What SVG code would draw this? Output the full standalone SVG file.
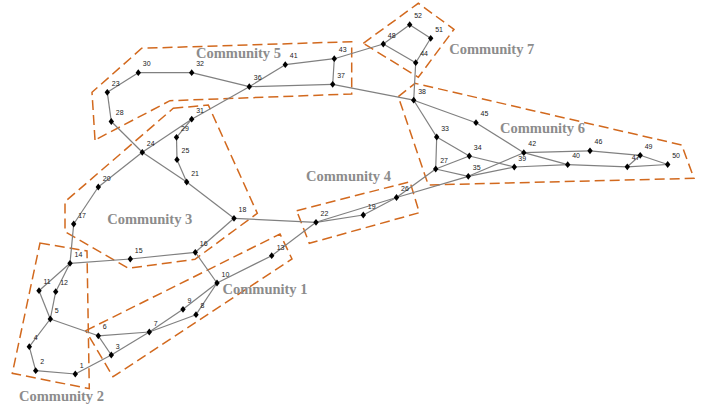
<svg xmlns="http://www.w3.org/2000/svg" xmlns:xlink="http://www.w3.org/1999/xlink" width="715" height="413" viewBox="0 0 715 413">
<style>
.hull{fill:none;stroke:#d2691e;stroke-width:1.5;stroke-dasharray:10,5}
.clab{font-family:"Liberation Serif",serif;font-weight:bold;font-size:14.5px;fill:#8c8c8c}
.e{stroke:#808080;stroke-width:1.2;fill:none}
.n{fill:#000}
.nl{font-family:"Liberation Sans",sans-serif;font-size:7px;fill:#222}
</style>
<defs>
<path id="d" d="M0,-3.4 L2.7,0 L0,3.4 L-2.7,0 Z"/>
</defs>
<rect width="715" height="413" fill="#fff"/>
<g id="communities">
<g id="community1"><polygon class="hull" points="85.7,330.7 280,234 292,259 113,376.7"/><text class="clab" x="222.5" y="293.5">Community 1</text></g>
<g id="community2"><polygon class="hull" points="40,243 87,251 89.3,388.7 12.3,373.3"/><text class="clab" x="19" y="400.5">Community 2</text></g>
<g id="community3"><polygon class="hull" points="173.3,108.3 208.3,105 257.3,213.3 195,259.3 128.3,268.3 65,231.7 65,201.7"/><text class="clab" x="107.3" y="224">Community 3</text></g>
<g id="community4"><polygon class="hull" points="296.7,210.7 410,181.7 419.3,212.7 309.3,243.3"/><text class="clab" x="306" y="181">Community 4</text></g>
<g id="community5"><polygon class="hull" points="95,140 92,92.3 141.7,48.3 351.7,41.7 351.7,94 170,100.7"/><text class="clab" x="196" y="58.3">Community 5</text></g>
<g id="community6"><polygon class="hull" points="398.3,96.7 415,83.3 681.7,145 694,178.3 428.3,185"/><text class="clab" x="500" y="133.3">Community 6</text></g>
<g id="community7"><polygon class="hull" points="363.3,43.3 418.3,3.3 454,29.3 418.3,77.3"/><text class="clab" x="449.3" y="54.3">Community 7</text></g>
</g>
<g id="connectors" class="e">
<line x1="75.3" y1="374" x2="35.7" y2="370.7"/>
<line x1="35.7" y1="370.7" x2="29.3" y2="346.7"/>
<line x1="29.3" y1="346.7" x2="50.3" y2="319"/>
<line x1="50.3" y1="319" x2="39" y2="290.7"/>
<line x1="50.3" y1="319" x2="55.7" y2="291.7"/>
<line x1="39" y1="290.7" x2="70" y2="263.3"/>
<line x1="55.7" y1="291.7" x2="70" y2="263.3"/>
<line x1="50.3" y1="319" x2="98.3" y2="335.8"/>
<line x1="98.3" y1="335.8" x2="111.3" y2="355"/>
<line x1="98.3" y1="335.8" x2="149.3" y2="332"/>
<line x1="75.3" y1="374" x2="111.3" y2="355"/>
<line x1="111.3" y1="355" x2="149.3" y2="332"/>
<line x1="149.3" y1="332" x2="183" y2="309.3"/>
<line x1="183" y1="309.3" x2="217" y2="283"/>
<line x1="149.3" y1="332" x2="196" y2="314.7"/>
<line x1="196" y1="314.7" x2="217" y2="283"/>
<line x1="217" y1="283" x2="271.7" y2="255.7"/>
<line x1="271.7" y1="255.7" x2="316" y2="222.3"/>
<line x1="217" y1="283" x2="195.3" y2="252.3"/>
<line x1="195.3" y1="252.3" x2="234" y2="218.3"/>
<line x1="70" y1="263.3" x2="130.3" y2="259"/>
<line x1="130.3" y1="259" x2="195.3" y2="252.3"/>
<line x1="70" y1="263.3" x2="73.7" y2="224"/>
<line x1="73.7" y1="224" x2="98.3" y2="187"/>
<line x1="98.3" y1="187" x2="142.3" y2="152.3"/>
<line x1="142.3" y1="152.3" x2="191.7" y2="119.2"/>
<line x1="191.7" y1="119.2" x2="249.3" y2="86.7"/>
<line x1="111.3" y1="121.5" x2="142.3" y2="152.3"/>
<line x1="142.3" y1="152.3" x2="186.7" y2="182"/>
<line x1="186.7" y1="182" x2="234" y2="218.3"/>
<line x1="176.5" y1="137.3" x2="191.7" y2="119.2"/>
<line x1="176.5" y1="137.3" x2="177" y2="159.7"/>
<line x1="177" y1="159.7" x2="186.7" y2="182"/>
<line x1="107.3" y1="92.3" x2="111.3" y2="121.5"/>
<line x1="107.3" y1="92.3" x2="138.3" y2="72.7"/>
<line x1="138.3" y1="72.7" x2="191.7" y2="72.7"/>
<line x1="191.7" y1="72.7" x2="249.3" y2="86.7"/>
<line x1="249.3" y1="86.7" x2="285.3" y2="64.7"/>
<line x1="285.3" y1="64.7" x2="334.3" y2="58.7"/>
<line x1="334.3" y1="58.7" x2="332.7" y2="84.3"/>
<line x1="249.3" y1="86.7" x2="332.7" y2="84.3"/>
<line x1="332.7" y1="84.3" x2="413.7" y2="100.2"/>
<line x1="334.3" y1="58.7" x2="383.3" y2="44"/>
<line x1="383.3" y1="44" x2="409.7" y2="24.7"/>
<line x1="409.7" y1="24.7" x2="430.7" y2="38.3"/>
<line x1="430.7" y1="38.3" x2="415.7" y2="62.7"/>
<line x1="383.3" y1="44" x2="415.7" y2="62.7"/>
<line x1="415.7" y1="62.7" x2="413.7" y2="100.2"/>
<line x1="234" y1="218.3" x2="316" y2="222.3"/>
<line x1="316" y1="222.3" x2="363.3" y2="215"/>
<line x1="363.3" y1="215" x2="396.5" y2="197.5"/>
<line x1="316" y1="222.3" x2="396.5" y2="197.5"/>
<line x1="396.5" y1="197.5" x2="435.7" y2="169"/>
<line x1="396.5" y1="197.5" x2="468.3" y2="176.3"/>
<line x1="413.7" y1="100.2" x2="436.7" y2="137"/>
<line x1="413.7" y1="100.2" x2="476" y2="122.7"/>
<line x1="476" y1="122.7" x2="523.8" y2="152.7"/>
<line x1="436.7" y1="137" x2="435.7" y2="169"/>
<line x1="436.7" y1="137" x2="469.3" y2="156"/>
<line x1="435.7" y1="169" x2="469.3" y2="156"/>
<line x1="435.7" y1="169" x2="468.3" y2="176.3"/>
<line x1="469.3" y1="156" x2="514.3" y2="167"/>
<line x1="468.3" y1="176.3" x2="514.3" y2="167"/>
<line x1="468.3" y1="176.3" x2="523.8" y2="152.7"/>
<line x1="523.8" y1="152.7" x2="590" y2="150.8"/>
<line x1="523.8" y1="152.7" x2="567.7" y2="164.7"/>
<line x1="514.3" y1="167" x2="567.7" y2="164.7"/>
<line x1="567.7" y1="164.7" x2="627.3" y2="166.8"/>
<line x1="590" y1="150.8" x2="640.2" y2="155.3"/>
<line x1="640.2" y1="155.3" x2="627.3" y2="166.8"/>
<line x1="640.2" y1="155.3" x2="667.7" y2="164.5"/>
<line x1="627.3" y1="166.8" x2="667.7" y2="164.5"/>
</g>
<g id="nodes">
<g id="n1"><use href="#d" x="75.3" y="374" class="n"/><text class="nl" x="79.8" y="367.5">1</text></g>
<g id="n2"><use href="#d" x="35.7" y="370.7" class="n"/><text class="nl" x="40.2" y="364.2">2</text></g>
<g id="n3"><use href="#d" x="111.3" y="355" class="n"/><text class="nl" x="115.8" y="348.5">3</text></g>
<g id="n4"><use href="#d" x="29.3" y="346.7" class="n"/><text class="nl" x="33.8" y="340.2">4</text></g>
<g id="n5"><use href="#d" x="50.3" y="319" class="n"/><text class="nl" x="54.8" y="312.5">5</text></g>
<g id="n6"><use href="#d" x="98.3" y="335.8" class="n"/><text class="nl" x="102.8" y="329.3">6</text></g>
<g id="n7"><use href="#d" x="149.3" y="332" class="n"/><text class="nl" x="153.8" y="325.5">7</text></g>
<g id="n8"><use href="#d" x="196" y="314.7" class="n"/><text class="nl" x="200.5" y="308.2">8</text></g>
<g id="n9"><use href="#d" x="183" y="309.3" class="n"/><text class="nl" x="187.5" y="302.8">9</text></g>
<g id="n10"><use href="#d" x="217" y="283" class="n"/><text class="nl" x="221.5" y="276.5">10</text></g>
<g id="n11"><use href="#d" x="39" y="290.7" class="n"/><text class="nl" x="43.5" y="284.2">11</text></g>
<g id="n12"><use href="#d" x="55.7" y="291.7" class="n"/><text class="nl" x="60.2" y="285.2">12</text></g>
<g id="n13"><use href="#d" x="271.7" y="255.7" class="n"/><text class="nl" x="276.7" y="250">13</text></g>
<g id="n14"><use href="#d" x="70" y="263.3" class="n"/><text class="nl" x="74.5" y="256.8">14</text></g>
<g id="n15"><use href="#d" x="130.3" y="259" class="n"/><text class="nl" x="134.8" y="252.5">15</text></g>
<g id="n16"><use href="#d" x="195.3" y="252.3" class="n"/><text class="nl" x="199.8" y="245.8">16</text></g>
<g id="n17"><use href="#d" x="73.7" y="224" class="n"/><text class="nl" x="78.2" y="217.5">17</text></g>
<g id="n18"><use href="#d" x="234" y="218.3" class="n"/><text class="nl" x="238.5" y="211.8">18</text></g>
<g id="n19"><use href="#d" x="363.3" y="215" class="n"/><text class="nl" x="367.8" y="208.5">19</text></g>
<g id="n20"><use href="#d" x="98.3" y="187" class="n"/><text class="nl" x="102.8" y="180.5">20</text></g>
<g id="n21"><use href="#d" x="186.7" y="182" class="n"/><text class="nl" x="191.2" y="175.5">21</text></g>
<g id="n22"><use href="#d" x="316" y="222.3" class="n"/><text class="nl" x="320.5" y="215.8">22</text></g>
<g id="n23"><use href="#d" x="107.3" y="92.3" class="n"/><text class="nl" x="111.8" y="85.8">23</text></g>
<g id="n24"><use href="#d" x="142.3" y="152.3" class="n"/><text class="nl" x="146.8" y="145.8">24</text></g>
<g id="n25"><use href="#d" x="177" y="159.7" class="n"/><text class="nl" x="181.5" y="153.2">25</text></g>
<g id="n26"><use href="#d" x="396.5" y="197.5" class="n"/><text class="nl" x="401" y="191">26</text></g>
<g id="n27"><use href="#d" x="435.7" y="169" class="n"/><text class="nl" x="440.2" y="162.5">27</text></g>
<g id="n28"><use href="#d" x="111.3" y="121.5" class="n"/><text class="nl" x="115.8" y="115">28</text></g>
<g id="n29"><use href="#d" x="176.5" y="137.3" class="n"/><text class="nl" x="181" y="130.8">29</text></g>
<g id="n30"><use href="#d" x="138.3" y="72.7" class="n"/><text class="nl" x="142.8" y="66.2">30</text></g>
<g id="n31"><use href="#d" x="191.7" y="119.2" class="n"/><text class="nl" x="196.2" y="112.7">31</text></g>
<g id="n32"><use href="#d" x="191.7" y="72.7" class="n"/><text class="nl" x="196.2" y="66.2">32</text></g>
<g id="n33"><use href="#d" x="436.7" y="137" class="n"/><text class="nl" x="441.2" y="130.5">33</text></g>
<g id="n34"><use href="#d" x="469.3" y="156" class="n"/><text class="nl" x="473.8" y="149.5">34</text></g>
<g id="n35"><use href="#d" x="468.3" y="176.3" class="n"/><text class="nl" x="472.8" y="169.8">35</text></g>
<g id="n36"><use href="#d" x="249.3" y="86.7" class="n"/><text class="nl" x="253.8" y="80.2">36</text></g>
<g id="n37"><use href="#d" x="332.7" y="84.3" class="n"/><text class="nl" x="337.2" y="77.8">37</text></g>
<g id="n38"><use href="#d" x="413.7" y="100.2" class="n"/><text class="nl" x="418.2" y="93.7">38</text></g>
<g id="n39"><use href="#d" x="514.3" y="167" class="n"/><text class="nl" x="518.3" y="160.5">39</text></g>
<g id="n40"><use href="#d" x="567.7" y="164.7" class="n"/><text class="nl" x="572.2" y="158.2">40</text></g>
<g id="n41"><use href="#d" x="285.3" y="64.7" class="n"/><text class="nl" x="289.8" y="58.2">41</text></g>
<g id="n42"><use href="#d" x="523.8" y="152.7" class="n"/><text class="nl" x="528.3" y="146.2">42</text></g>
<g id="n43"><use href="#d" x="334.3" y="58.7" class="n"/><text class="nl" x="338.8" y="52.2">43</text></g>
<g id="n44"><use href="#d" x="415.7" y="62.7" class="n"/><text class="nl" x="420.2" y="56.2">44</text></g>
<g id="n45"><use href="#d" x="476" y="122.7" class="n"/><text class="nl" x="480.5" y="116.2">45</text></g>
<g id="n46"><use href="#d" x="590" y="150.8" class="n"/><text class="nl" x="594.5" y="144.3">46</text></g>
<g id="n47"><use href="#d" x="627.3" y="166.8" class="n"/><text class="nl" x="631.8" y="160.3">47</text></g>
<g id="n48"><use href="#d" x="383.3" y="44" class="n"/><text class="nl" x="387.8" y="37.5">48</text></g>
<g id="n49"><use href="#d" x="640.2" y="155.3" class="n"/><text class="nl" x="644.7" y="148.8">49</text></g>
<g id="n50"><use href="#d" x="667.7" y="164.5" class="n"/><text class="nl" x="672.2" y="158">50</text></g>
<g id="n51"><use href="#d" x="430.7" y="38.3" class="n"/><text class="nl" x="435.2" y="31.8">51</text></g>
<g id="n52"><use href="#d" x="409.7" y="24.7" class="n"/><text class="nl" x="414.2" y="18.2">52</text></g>
</g>
</svg>
